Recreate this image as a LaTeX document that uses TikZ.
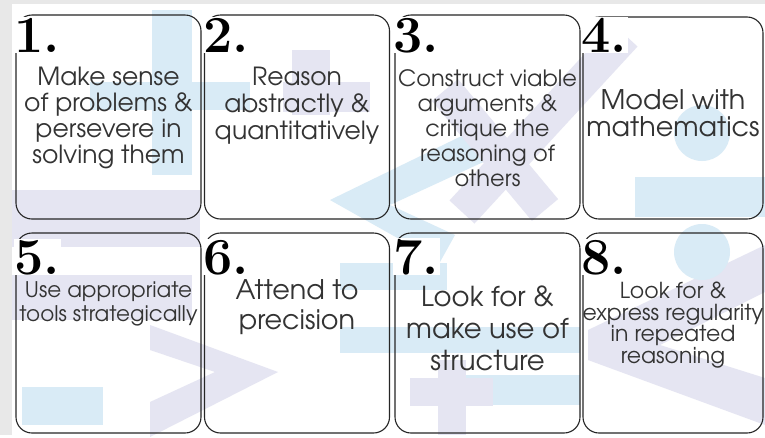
\documentclass[tikz,border=0pt]{standalone}
\usepackage{fontspec}
\usetikzlibrary{positioning}
\newfontfamily\gothic{TeX Gyre Adventor}
\definecolor{wmblue}{RGB}{217,235,246}
\definecolor{wmlav}{RGB}{229,229,242}
\definecolor{framegray}{RGB}{232,232,232}
\tikzset{
	card/.style={draw=black!85,line width=1.1pt,rounded corners=16pt,minimum width=185pt,minimum height=#1,inner sep=0pt,outer sep=0pt},
	num/.style={anchor=base west,inner sep=0.5pt,fill=white,font=\fontsize{52}{52}\selectfont\bfseries},
	txt/.style 2 args={anchor=north,inner sep=0pt,align=center,text=black!80,font=\gothic\fontsize{#1}{#2}\selectfont}
}

\begin{document}
\begin{tikzpicture}[x=1pt,y=-1pt]
	\fill[framegray] (0,0) rectangle (765,435);
	\fill[white] (12,4) rectangle (765,435);

	% watermark
	\fill[wmblue] (152,10) rectangle (192,175);
	\fill[wmblue] (90,82) rectangle (250,110);
	\fill[wmlav] (292,50) rectangle (330,115);
	\fill[wmlav] (283,82) rectangle (370,112);
	\fill[wmlav] (12,190) rectangle (200,247);
	\fill[wmlav] (12,275) rectangle (192,320);
	\fill[wmlav] (150,325) -- (278,372) -- (150,437) -- (150,402) -- (215,372) -- (150,350) -- cycle;
	\fill[wmblue] (22,387) rectangle (103,425);
	\fill[wmblue] (330,200) -- (478,128) -- (492,158) -- (390,205) -- (455,235) -- (440,262) -- cycle;
	\fill[wmblue] (340,263) rectangle (447,290);
	\fill[wmblue] (340,327) rectangle (580,353);
	\fill[wmblue] (465,375) rectangle (580,405);
	\fill[wmlav] (438,360) rectangle (466,435);
	\fill[wmlav] (410,378) rectangle (493,406);
	\draw[wmlav,line width=34pt] (445,90) -- (545,210);
	\draw[wmlav,line width=34pt] (625,35) -- (462,212);
	\fill[wmlav] (588,330) -- (765,245) -- (765,292) -- (660,345) -- (765,378) -- (765,425) -- (588,360) -- cycle;
	\fill[wmblue] (635,177) rectangle (765,217);
	\fill[wmblue] (702,133) circle [radius=28pt];
	\fill[wmblue] (702,252) circle [radius=28pt];

	% cards
	\node[card=204pt] (b1) at (108.5,117) {};
	\node[card=204pt] (b2) at (297,117) {};
	\node[card=204pt] (b3) at (487.5,117) {};
	\node[card=202pt,minimum width=180pt] (b4) at (673,118) {};
	\node[card=200pt] (b5) at (108.5,333) {};
	\node[card=200pt] (b6) at (297,333) {};
	\node[card=200pt] (b7) at (487.5,333) {};
	\node[card=200pt,minimum width=180pt] (b8) at (673,333) {};

	% numbers
	\node[num] (n1) at ([xshift=-2pt,yshift=-37pt]b1.north west) {1.};
	\node[num] (n2) at ([xshift=-2pt,yshift=-37pt]b2.north west) {2.};
	\node[num] (n3) at ([xshift=-2pt,yshift=-37pt]b3.north west) {3.};
	\node[num] (n4) at ([xshift=-2pt,yshift=-35pt]b4.north west) {4.};
	\node[num] (n5) at ([xshift=-2pt,yshift=-41pt]b5.north west) {5.};
	\node[num] (n6) at ([xshift=-2pt,yshift=-41pt]b6.north west) {6.};
	\node[num] (n7) at ([xshift=-2pt,yshift=-41pt]b7.north west) {7.};
	\node[num] (n8) at ([xshift=-2pt,yshift=-41pt]b8.north west) {8.};

	% texts
	\node[txt={25}{26},below=52pt of b1.north] (t1) {Make sense\\of problems \&\\persevere in\\solving them};
	\node[txt={25}{27},below=52pt of b2.north] (t2) {Reason\\abstractly \&\\quantitatively};
	\node[txt={22.5}{25},below=54pt of b3.north] (t3) {Construct viable\\arguments \&\\critique the\\reasoning of\\others};
	\node[txt={27}{27},below=72pt of b4.north] (t4) {Model with\\mathematics};
	\node[txt={21.5}{24},below=48pt of b5.north] (t5) {Use appropriate\\tools strategically};
	\node[txt={27}{30},below=46pt of b6.north] (t6) {Attend to\\precision};
	\node[txt={27.5}{32},below=53pt of b7.north] (t7) {Look for \&\\make use of\\structure};
	\node[txt={22}{21.5},below=49pt of b8.north] (t8) {Look for \&\\express regularity\\in repeated\\reasoning};
\end{tikzpicture}
\end{document}
